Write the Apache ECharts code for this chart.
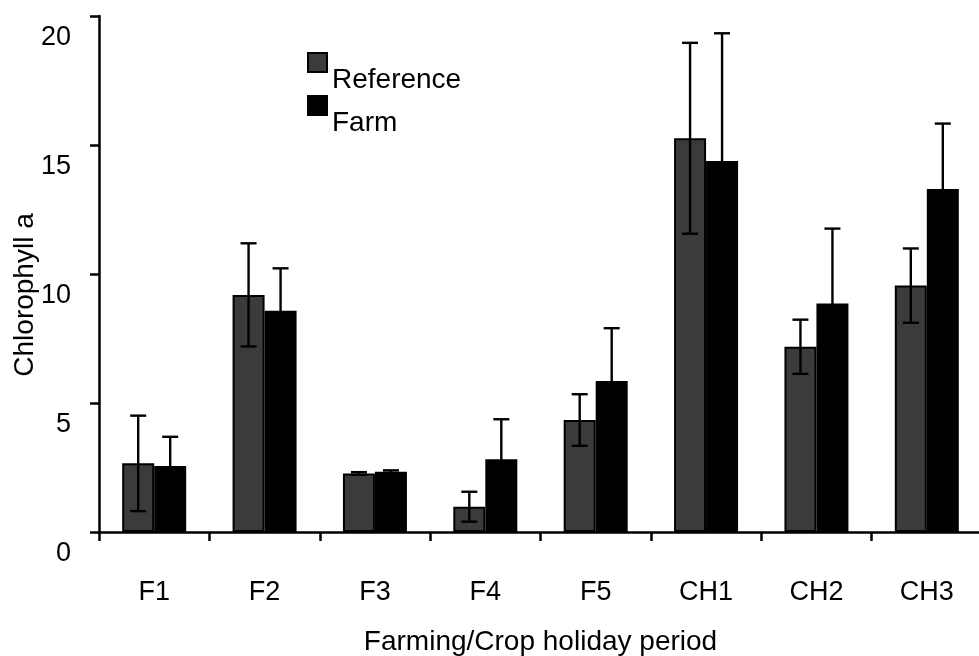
<!DOCTYPE html>
<html>
<head>
<meta charset="utf-8">
<script src="https://cdn.jsdelivr.net/npm/echarts@6/dist/echarts.min.js"></script>
<style>
  html, body { margin: 0; padding: 0; background: #ffffff; }
  #chart { width: 979px; height: 656px; }
</style>
</head>
<body>
<div id="chart"></div>
<script>
// Sampling periods
const periods = ['F1', 'F2', 'F3', 'F4', 'F5', 'CH1', 'CH2', 'CH3'];

// Mean chlorophyll a per period
const referenceMean = [2.66, 9.19, 2.27, 0.98, 4.34, 15.26, 7.18, 9.55];
const farmMean      = [2.56, 8.58, 2.34, 2.82, 5.85, 14.38, 8.86, 13.29];

// Standard deviation (error bar half-length)
const referenceSd = [1.85, 2.0, 0.05, 0.58, 1.0, 3.7, 1.05, 1.44];
const farmSd      = [1.13, 1.64, 0.05, 1.55, 2.05, 4.95, 2.9, 2.54];

// Y axis ticks
const yTicks = [0, 5, 10, 15, 20];

const FONT = '"Liberation Sans", Arial, Helvetica, sans-serif';
const BAR_W = 32;

function errorSeries(name, means, sds, offset) {
  return {
    type: 'custom',
    name: name + ' sd',
    z: 10,
    silent: true,
    encode: { x: 0, y: 1 },
    data: means.map((m, i) => [i, m, sds[i]]),
    renderItem: function (params, api) {
      const idx = api.value(0);
      const mean = api.value(1);
      const sd = api.value(2);
      const hi = api.coord([idx, mean + sd]);
      const lo = api.coord([idx, mean - sd]);
      const x = hi[0] + offset;
      const cap = 8;
      const style = { stroke: '#000', lineWidth: 2.4, fill: null };
      return {
        type: 'group',
        children: [
          { type: 'line', shape: { x1: x, y1: hi[1], x2: x, y2: lo[1] }, style: style },
          { type: 'line', shape: { x1: x - cap, y1: hi[1], x2: x + cap, y2: hi[1] }, style: style },
          { type: 'line', shape: { x1: x - cap, y1: lo[1], x2: x + cap, y2: lo[1] }, style: style }
        ]
      };
    }
  };
}

// Legend entry: square key with its caption dropped below the key's centre
function legendEntry(name, top) {
  return {
    orient: 'vertical',
    left: 307,
    top: top,
    padding: 0,
    itemWidth: 19,
    itemHeight: 19,
    itemGap: 0,
    icon: 'rect',
    data: [name],
    formatter: '{t|{name}}',
    textStyle: {
      fontFamily: FONT,
      fontSize: 28,
      color: '#000',
      rich: {
        t: { fontFamily: FONT, fontSize: 28, color: '#000', padding: [36, 0, 0, 0] }
      }
    }
  };
}

const chart = echarts.init(document.getElementById('chart'), null, { renderer: 'canvas' });

chart.setOption({
  backgroundColor: '#ffffff',
  animation: false,
  textStyle: { fontFamily: FONT },
  grid: { left: 99, top: 16, right: -3, bottom: 124, containLabel: false, outerBoundsMode: 'none' },
  legend: [legendEntry('Reference', 52), legendEntry('Farm', 95)],
  xAxis: {
    type: 'category',
    data: periods,
    name: 'Farming/Crop holiday period',
    nameLocation: 'middle',
    nameGap: 96,
    nameMoveOverlap: false,
    nameTextStyle: { fontFamily: FONT, fontSize: 28, color: '#000' },
    axisLine: { lineStyle: { color: '#000', width: 2.5 } },
    axisTick: { show: true, length: 9, lineStyle: { color: '#000', width: 2.5 } },
    axisLabel: { margin: 47, fontFamily: FONT, fontSize: 27, color: '#000' },
    splitLine: { show: false }
  },
  yAxis: {
    type: 'value',
    min: yTicks[0],
    max: yTicks[yTicks.length - 1],
    interval: yTicks[1] - yTicks[0],
    name: 'Chlorophyll a',
    nameLocation: 'middle',
    nameGap: 60,
    nameMoveOverlap: false,
    nameRotate: 90,
    nameTextStyle: { fontFamily: FONT, fontSize: 28, color: '#000', padding: [0, 42, 0, 0] },
    axisLine: { show: true, lineStyle: { color: '#000', width: 2.5 } },
    axisTick: { show: true, length: 9, lineStyle: { color: '#000', width: 2.5 } },
    axisLabel: {
      margin: 28,
      color: '#000',
      verticalAlign: 'top',
      formatter: '{v|{value}}',
      rich: {
        v: { fontFamily: FONT, fontSize: 27, color: '#000', padding: [8, 0, 0, 0] }
      }
    },
    splitLine: { show: false }
  },
  series: [
    {
      type: 'bar',
      name: 'Reference',
      data: referenceMean,
      barWidth: BAR_W,
      barGap: '0%',
      itemStyle: { color: '#3b3b3b', borderColor: '#000', borderWidth: 2 }
    },
    {
      type: 'bar',
      name: 'Farm',
      data: farmMean,
      barWidth: BAR_W,
      barGap: '0%',
      itemStyle: { color: '#000000', borderColor: '#000', borderWidth: 2 }
    },
    errorSeries('Reference', referenceMean, referenceSd, -BAR_W / 2),
    errorSeries('Farm', farmMean, farmSd, BAR_W / 2)
  ]
});
</script>
</body>
</html>
